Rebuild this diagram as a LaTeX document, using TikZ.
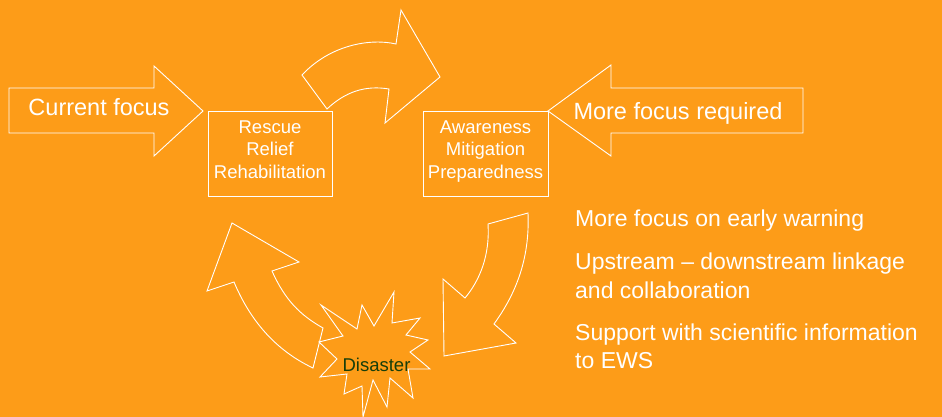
\documentclass[tikz,border=0pt]{standalone}
\usepackage{fontspec}
\setmainfont{Liberation Sans}
\definecolor{bg}{RGB}{253,156,24}
\definecolor{darkgreen}{RGB}{22,62,10}
\begin{document}
\begin{tikzpicture}[x=1pt,y=-1pt,
  outl/.style={draw=white,line width=0.9pt,line join=miter},
  big/.style={text=white,font=\fontsize{23.5}{28}\selectfont,inner sep=0pt},
  side/.style={text=white,font=\fontsize{23}{28}\selectfont,inner sep=0pt,anchor=base west},
  small/.style={text=white,font=\fontsize{18.5}{22}\selectfont,inner sep=0pt},
  boxnode/.style={draw=white,line width=0.9pt,minimum width=#1,minimum height=85pt,inner sep=0pt}]
\fill[bg] (0,0) rectangle (942,417);
\useasboundingbox (0,0) rectangle (942,417);
% Current focus arrow
\draw[outl] (9,88) -- (154,88) -- (154,66) -- (203,111) -- (154,156) -- (154,133) -- (9,133) -- cycle;
\node[big,anchor=base] (cf) at (99,116) {Current focus};
% More focus required arrow
\draw[outl] (803,88) -- (611,88) -- (611,65) -- (548,111) -- (611,156) -- (611,133) -- (803,133) -- cycle;
\node[big,anchor=base] (mfr) at (678,120) {More focus required};
% boxes
\node[boxnode=124pt] (rescue) at (270,153.5) {};
\node[small,anchor=base] (r1) at (270,133.3) {Rescue};
\node[small,anchor=base] (r2) at (270,155.8) {Relief};
\node[small,anchor=base] (r3) at (270,178.3) {Rehabilitation};
\node[boxnode=125pt] (aware) at (485.5,153.5) {};
\node[small,anchor=base] (a1) at (485.5,133.3) {Awareness};
\node[small,anchor=base] (a2) at (485.5,155.8) {Mitigation};
\node[small,anchor=base] (a3) at (485.5,178.3) {Preparedness};
% top curved arrow
\draw[outl] (302,75) .. controls (330,45) and (370,38) .. (396,44) -- (401,10) -- (440,77) -- (385,123) -- (389,89) .. controls (365,85) and (345,92) .. (327,109) -- cycle;
% left curved arrow
\draw[outl] (232,223) -- (299,262) -- (272,271) .. controls (285,300) and (300,315) .. (323,328) -- (313,368) .. controls (275,350) and (250,320) .. (234,282) -- (207,291) -- cycle;
% right curved arrow
\draw[outl] (488,224) -- (528,213) .. controls (530,260) and (515,295) .. (494,324) -- (516,343) -- (444,356) -- (443,279) -- (465,298) .. controls (480,280) and (490,255) .. (488,224) -- cycle;
% disaster star
\draw[outl,fill=bg] (321,305) -- (357,329) -- (362,305) -- (374,326) -- (394,292) -- (392,323) -- (420,318) -- (406,335) -- (428,340) -- (410,352) -- (430,369) -- (408,369) -- (413,398) -- (390,378) -- (387,407) -- (373,380) -- (363,417) -- (362,386) -- (344,394) -- (347,374) -- (320,377) -- (337,359) -- (319,342) -- (343,336) -- cycle;
\node[font=\fontsize{18.5}{22}\selectfont,text=darkgreen,inner sep=0pt,anchor=base] (dis) at (376.5,371.7) {Disaster};
% right text
\node[side] (t1) at (575,226.7) {More focus on early warning};
\node[side] (t2) at (575,269) {Upstream – downstream linkage};
\node[side] (t3) at (575,298) {and collaboration};
\node[side] (t4) at (575,340) {Support with scientific information};
\node[side] (t5) at (575,368.5) {to EWS};
\end{tikzpicture}
\end{document}
